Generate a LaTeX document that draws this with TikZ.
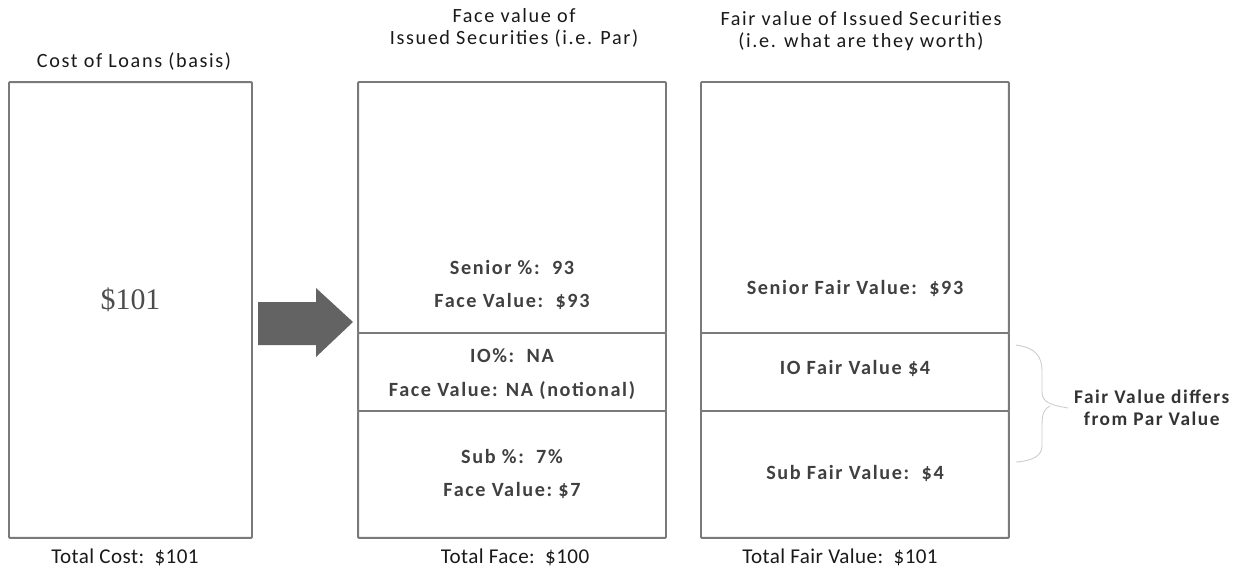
\documentclass[tikz,border=0pt]{standalone}
\usepackage{fontspec}
\setmainfont{Carlito}[LetterSpace=8]
\newfontfamily\numfont{Liberation Serif}
\newfontfamily\totalfont{Carlito}[LetterSpace=2]
\usetikzlibrary{positioning}

\definecolor{boxline}{HTML}{7A7A7A}
\definecolor{arrowgray}{HTML}{636363}

\tikzset{
  tranche/.style={draw=boxline, line width=1.1pt, rounded corners=0.5pt,
    inner sep=0pt, outer sep=0pt, minimum width=6.16cm},
  heading/.style={align=center, text=black!90,
    font=\fontsize{11.5}{12.5}\selectfont},
  inbox/.style={align=center, text=black!75,
    font=\fontsize{11.5}{19}\selectfont\bfseries},
  total/.style={text=black!90, font=\totalfont\fontsize{12}{13}\selectfont},
  bracestyle/.style={draw=gray!40, line width=0.5pt}
}

\begin{document}
\begin{tikzpicture}[x=0.02cm, y=-0.02cm]
  \useasboundingbox (0,0) rectangle (1238,569);

  % loan basis
  \node[tranche, minimum width=4.86cm, minimum height=9.12cm] (loans) at (130.5,310) {};
  \node[font=\numfont\fontsize{17}{20}\selectfont, text=black!70] (cost) at (130.5,300) {\$101};

  % face value column
  \node[tranche, minimum height=5.02cm] (senior) at (512,207.5) {};
  \node[tranche, minimum height=1.56cm, below=0pt of senior] (io) {};
  \node[tranche, minimum height=2.54cm, below=0pt of io] (sub) {};

  % fair value column
  \node[tranche, minimum height=5.02cm, right=0.7cm of senior] (srfair) {};
  \node[tranche, minimum height=1.56cm, below=0pt of srfair] (iofair) {};
  \node[tranche, minimum height=2.54cm, below=0pt of iofair] (subfair) {};

  % big arrow
  \fill[arrowgray] (258,302) -- (316,302) -- (316,288) -- (353,322)
    -- (316,357) -- (316,345) -- (258,345) -- cycle;

  % headings
  \node[heading] (costhead) at (134,62) {Cost of Loans (basis)};
  \node[heading] (facehead) at (514,28) {Face value of\\Issued Securities (i.e. Par)};
  \node[heading] (fairhead) at (861,31) {Fair value of Issued Securities\\(i.e. what are they worth)};

  % tranche texts
  \node[inbox] (seniortxt) at (512,285) {Senior \%:~~93\\Face Value:~~\$93};
  \node[inbox] (iotxt) at (512,374) {IO\%:~~NA\\Face Value: NA (notional)};
  \node[inbox] (subtxt) at (512,474) {Sub \%:~~7\%\\Face Value:~\$7};
  \node[inbox] (srfairtxt) at (855,288) {Senior Fair Value:~~\$93};
  \node[inbox] (iofairtxt) at (855,368) {IO Fair Value \$4};
  \node[inbox] (subfairtxt) at (855,473) {Sub Fair Value:~~\$4};

  % totals
  \node[total] (totcost) at (125,557) {Total Cost:~~\$101};
  \node[total] (totface) at (515,557) {Total Face:~~\$100};
  \node[total] (totfair) at (840,557) {Total Fair Value:~~\$101};

  % note on the right
  \node[heading, font=\fontsize{11}{12.5}\selectfont\bfseries, text=black!80, anchor=west] (differs) at (1068,408)
    {Fair Value differs\\from Par Value};
  \coordinate (bracetop) at (1016,345);
  \coordinate (bracebot) at (1016,462);
  \draw[bracestyle] (bracetop) .. controls (1036,348) and (1042,356) .. (1042,372)
    -- (1042,392) .. controls (1042,402) and (1050,405) .. (differs.west)
    (1050,406) .. controls (1042,410) and (1042,418) .. (1042,428)
    -- (1042,446) .. controls (1042,456) and (1032,461) .. (bracebot);
\end{tikzpicture}
\end{document}
